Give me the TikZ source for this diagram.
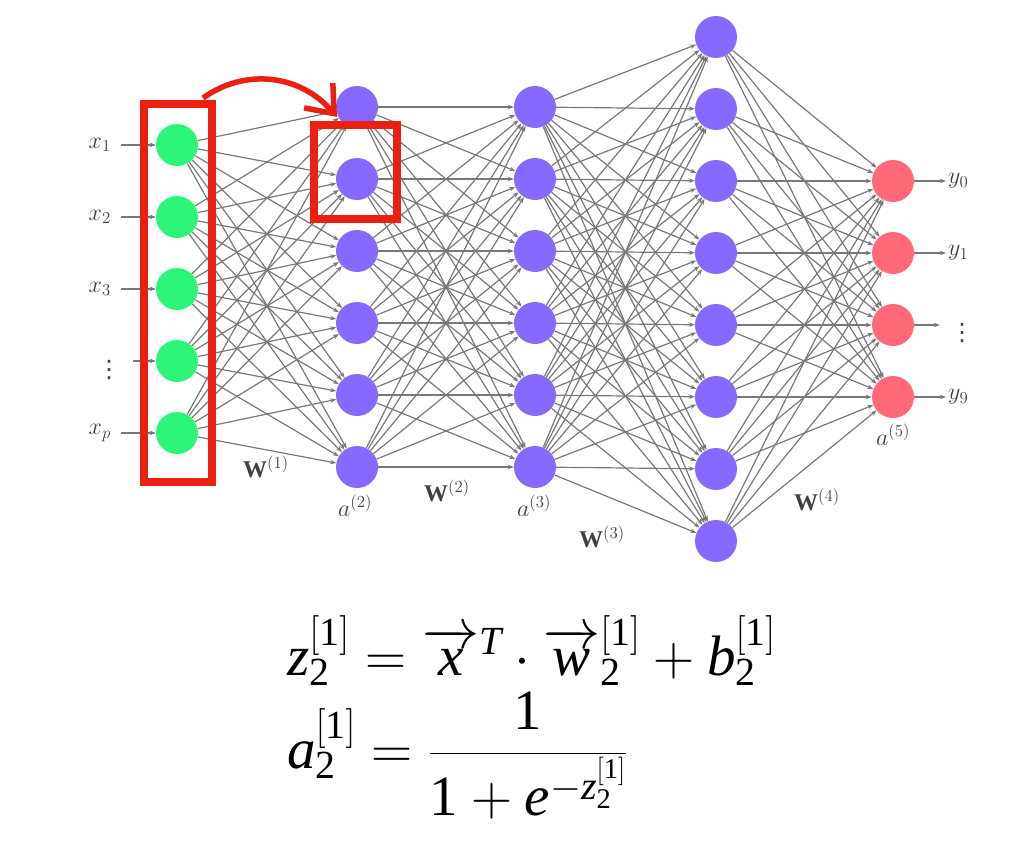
\RequirePackage{fix-cm}
\documentclass[tikz,border=0pt]{standalone}
\usepackage{amsmath}
\usepackage{fontspec}
\setmainfont{Liberation Serif}
\newfontfamily\tnr{Liberation Serif}
\newfontfamily\dvs{DejaVu Sans}
\usetikzlibrary{arrows.meta}
\pgfdeclarelayer{bg}
\pgfsetlayers{bg,main}

\definecolor{ngreen}{RGB}{44,245,120}
\definecolor{npurple}{RGB}{135,105,255}
\definecolor{nred}{RGB}{255,105,120}
\definecolor{hred}{RGB}{235,32,16}
\definecolor{edgegray}{RGB}{120,120,120}

\newcommand\mi[1]{\text{\tnr\itshape #1}}
\newcommand\mn[1]{\text{\tnr\upshape #1}}

\tikzset{
 neuron/.style={circle, minimum size=42pt, inner sep=0pt},
 inp/.style={neuron, fill=ngreen},
 hid/.style={neuron, fill=npurple},
 outp/.style={neuron, fill=nred},
 conn/.style={draw=edgegray, line width=1.2pt, -{Stealth[length=6pt,width=4.5pt]}},
 lbl/.style={text=black!75, font=\fontsize{24}{28}\selectfont, inner sep=2pt},
 dots/.style={text=black!75, font=\fontsize{24}{28}\selectfont\dvs, inner sep=0pt},
 hbox/.style={draw=hred, line width=8pt},
 harrow/.style={draw=hred, line width=5.5pt, -{Straight Barb[length=24pt,width=38pt]}},
 eq/.style={anchor=base west, inner sep=0pt, font=\fontsize{57}{68}\selectfont},
}

\begin{document}
\begin{tikzpicture}[x=1pt,y=-1pt]
\useasboundingbox (0,0) rectangle (1021,846);

% nodes
\foreach \i in {1,...,5} \node[inp] (i\i) at (177,{145+72*(\i-1)}) {};
\foreach \i in {1,...,6} \node[hid] (b\i) at (357,{107+72*(\i-1)}) {};
\foreach \i in {1,...,6} \node[hid] (c\i) at (535,{107+72*(\i-1)}) {};
\foreach \i in {1,...,8} \node[hid] (d\i) at (716,{37+72*(\i-1)}) {};
\foreach \i in {1,...,4} \node[outp] (o\i) at (893,{181+72*(\i-1)}) {};

% input labels
\node[lbl, anchor=east] (lx1) at (113,145) {$x_1$};
\node[lbl, anchor=east] (lx2) at (113,217) {$x_2$};
\node[lbl, anchor=east] (lx3) at (113,289) {$x_3$};
\node[dots] (lx4) at (109,370) {⋮};
\node[lbl, anchor=east] (lx5) at (113,433) {$x_p$};

% output labels
\node[lbl, anchor=west] (ly1) at (946,181) {$y_0$};
\node[lbl, anchor=west] (ly2) at (946,253) {$y_1$};
\node[dots] (ly3) at (962,333) {⋮};
\node[lbl, anchor=west] (ly4) at (946,397) {$y_9$};

% layer labels
\node[lbl] (w1) at (266,467) {$\mathbf{W}^{(1)}$};
\node[lbl] (w2) at (447,491) {$\mathbf{W}^{(2)}$};
\node[lbl] (w3) at (602,537) {$\mathbf{W}^{(3)}$};
\node[lbl] (w4) at (817,500) {$\mathbf{W}^{(4)}$};
\node[lbl] (a2) at (355,506) {$a^{(2)}$};
\node[lbl] (a3) at (534,506) {$a^{(3)}$};
\node[lbl] (a5) at (893,435) {$a^{(5)}$};

% connections
\begin{pgfonlayer}{bg}
\foreach \a in {1,...,5} \foreach \b in {1,...,6} \draw[conn] (i\a) -- (b\b);
\foreach \a in {1,...,6} \foreach \b in {1,...,6} \draw[conn] (b\a) -- (c\b);
\foreach \a in {1,...,6} \foreach \b in {1,...,8} \draw[conn] (c\a) -- (d\b);
\foreach \a in {1,...,8} \foreach \b in {1,...,4} \draw[conn] (d\a) -- (o\b);
\foreach \i in {1,2,3,5} \draw[conn, shorten <=8pt] (lx\i) -- (i\i);
\draw[conn] ([xshift=12pt]lx4.east |- i4) -- (i4);
\foreach \i in {1,2,4} \draw[conn] (o\i) -- (ly\i);
\draw[conn] (o3) -- ([xshift=-10pt]ly3.west |- o3);
\end{pgfonlayer}

% highlight boxes and arrow
\draw[hbox] (144,104) rectangle (212,482);
\draw[hbox] (314,125) rectangle (397,219);
\coordinate (as) at (203,98);
\coordinate (ae) at (337,117);
\draw[harrow] (as) .. controls (245,68) and (300,74) .. (ae);

% formulas
\node[eq] (eq1) at (287,675) {$\mi{z}_{\mn{2}}^{[\mn{1}]} = \overrightarrow{\mi{x}}^{\mi{T}} \cdot \overrightarrow{\mi{w}}_{\mn{2}}^{[\mn{1}]} + \mi{b}_{\mn{2}}^{[\mn{1}]}$};
\node[eq] (eq2) at (287,768) {$\mi{a}_{\mn{2}}^{[\mn{1}]} = \dfrac{\mn{1}}{\mn{1} + \mi{e}^{-\mi{z}_{\mn{2}}^{[\mn{1}]}}}$};
\end{tikzpicture}
\end{document}
